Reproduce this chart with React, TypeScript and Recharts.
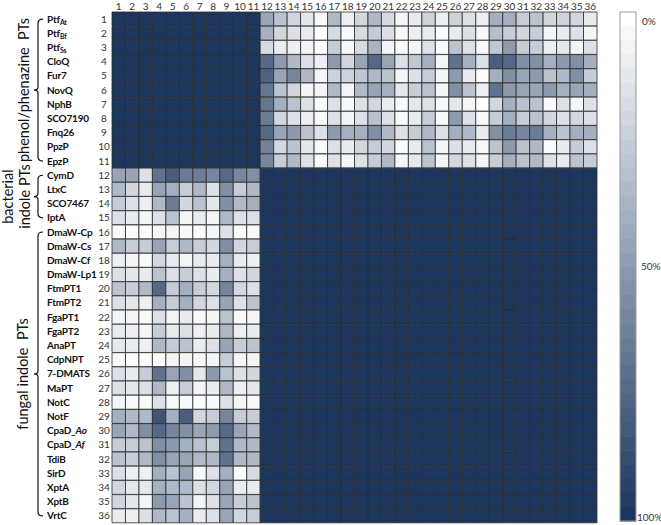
import { BarChart, Bar, XAxis, YAxis, Cell } from 'recharts'

// row labels: "_{..}" = subscript, "*..*" = italic part
const phenolRows = ['Ptf_{At}', 'Ptf_{Bf}', 'Ptf_{Ss}', 'CloQ', 'Fur7', 'NovQ', 'NphB', 'SCO7190', 'Fnq26', 'PpzP', 'EpzP']
const bacterialRows = ['CymD', 'LtxC', 'SCO7467', 'IptA']
const fungalRows = [
  'DmaW-Cp', 'DmaW-Cs', 'DmaW-Cf', 'DmaW-Lp1', 'FtmPT1', 'FtmPT2', 'FgaPT1', 'FgaPT2', 'AnaPT', 'CdpNPT',
  '7-DMATS', 'MaPT', 'NotC', 'NotF', 'CpaD_*Ao*', 'CpaD_*Af*', 'TdiB', 'SirD', 'XptA', 'XptB', 'VrtC',
]
const colNumbers = Array.from({ length: 36 }, (_, i) => i + 1)

// cells inside the same class read as 100%
const SAME_CLASS = 100

// rows 1-11 against columns 12-36
const phenolOnIndole = [
  [45, 30, 20, 12, 3, 35, 8, 20, 35, 18, 5, 10, 22, 8, 22, 15, 8, 40, 40, 25, 30, 20, 22, 20, 10],
  [40, 20, 15, 10, 0, 18, 3, 18, 25, 15, 3, 8, 10, 2, 10, 15, 3, 32, 25, 20, 25, 5, 10, 15, 5],
  [18, 10, 8, 5, 0, 25, 3, 18, 38, 5, 3, 5, 15, 2, 30, 15, 3, 28, 50, 25, 25, 8, 12, 5, 15],
  [75, 50, 35, 15, 8, 50, 20, 45, 75, 45, 15, 28, 40, 5, 70, 40, 15, 80, 75, 55, 55, 40, 50, 55, 40],
  [78, 45, 60, 35, 5, 22, 22, 28, 35, 30, 5, 15, 25, 5, 50, 10, 0, 40, 55, 45, 50, 30, 35, 55, 25],
  [68, 30, 20, 5, 5, 35, 5, 35, 45, 40, 12, 25, 30, 5, 55, 30, 8, 70, 50, 45, 45, 50, 40, 45, 40],
  [68, 40, 30, 15, 2, 15, 3, 15, 20, 10, 3, 12, 15, 3, 12, 5, 0, 20, 40, 30, 30, 3, 15, 5, 15],
  [65, 20, 15, 8, 3, 15, 5, 15, 30, 15, 3, 10, 25, 3, 50, 15, 3, 25, 40, 25, 30, 20, 15, 20, 15],
  [75, 45, 50, 30, 15, 50, 40, 40, 55, 35, 15, 25, 35, 15, 40, 35, 10, 55, 65, 60, 65, 40, 30, 40, 40],
  [62, 20, 30, 12, 3, 15, 10, 20, 25, 20, 2, 10, 30, 5, 15, 10, 3, 30, 50, 30, 35, 2, 10, 25, 15],
  [60, 25, 35, 15, 3, 15, 5, 15, 25, 35, 5, 12, 30, 5, 20, 15, 5, 25, 40, 30, 35, 15, 10, 30, 25],
]

// rows 12-36 against columns 1-11
const indoleOnPhenol = [
  [45, 45, 15, 70, 80, 65, 65, 60, 75, 60, 55],
  [35, 20, 10, 45, 40, 25, 35, 15, 55, 25, 35],
  [25, 15, 8, 35, 65, 20, 30, 12, 55, 35, 40],
  [15, 10, 5, 15, 30, 5, 10, 5, 35, 15, 15],
  [3, 2, 2, 5, 5, 3, 2, 5, 15, 3, 3],
  [35, 25, 25, 45, 25, 35, 25, 20, 55, 20, 25],
  [8, 5, 3, 20, 10, 5, 10, 10, 40, 10, 8],
  [15, 12, 10, 30, 15, 25, 15, 10, 40, 15, 20],
  [30, 25, 35, 75, 25, 40, 25, 20, 60, 20, 15],
  [15, 12, 8, 40, 25, 40, 20, 15, 45, 15, 30],
  [5, 5, 3, 15, 5, 10, 3, 5, 30, 3, 5],
  [10, 8, 5, 25, 10, 15, 8, 10, 35, 8, 10],
  [12, 10, 8, 35, 25, 30, 10, 15, 45, 25, 30],
  [3, 2, 2, 3, 5, 5, 3, 5, 25, 5, 5],
  [15, 10, 25, 70, 45, 55, 12, 50, 30, 15, 20],
  [15, 12, 15, 35, 8, 25, 5, 10, 35, 8, 12],
  [5, 3, 3, 15, 3, 3, 2, 3, 15, 5, 3],
  [40, 35, 35, 85, 40, 80, 20, 25, 60, 25, 25],
  [45, 35, 55, 75, 60, 55, 45, 50, 75, 45, 35],
  [25, 25, 30, 55, 50, 40, 30, 25, 70, 35, 35],
  [30, 25, 35, 55, 45, 45, 35, 35, 70, 35, 35],
  [15, 8, 8, 40, 30, 45, 3, 15, 40, 2, 18],
  [20, 12, 12, 40, 35, 35, 15, 20, 45, 10, 10],
  [20, 12, 5, 50, 45, 30, 5, 15, 45, 25, 30],
  [10, 8, 15, 35, 30, 40, 10, 15, 45, 20, 25],
]

const allRows = [...phenolRows, ...bacterialRows, ...fungalRows]
const NP = phenolRows.length

const FONT = 'Lato, "Open Sans", sans-serif'
const NAVY = [28, 54, 94]
const GRID = '#2c2c2c'

const W = 661
const H = 525
const PLOT_LEFT = 112
const PLOT_TOP = 12
const PLOT_RIGHT = 597
const PLOT_BOTTOM = 523
const ROW_H = (PLOT_BOTTOM - PLOT_TOP) / allRows.length

function cellValue(r: number, c: number): number {
  const rowPhenol = r < NP
  const colPhenol = c < NP
  if (rowPhenol === colPhenol) return SAME_CLASS
  return rowPhenol ? phenolOnIndole[r][c - NP] : indoleOnPhenol[r - NP][c]
}

function colorFor(v: number): string {
  const t = Math.max(0, Math.min(1, v / 100))
  const ch = NAVY.map((n) => Math.round(255 + (n - 255) * t))
  return `rgb(${ch[0]},${ch[1]},${ch[2]})`
}

const data = allRows.map((row) => {
  const d: Record<string, string | number> = { row }
  colNumbers.forEach((c) => (d[`c${c}`] = 1))
  return d
})

function RowLabel({ name }: { name: string }) {
  const sub = name.match(/^(.*)_\{(.*)\}$/)
  if (sub)
    return (
      <>
        {sub[1]}
        <tspan fontSize={7} dy={2}>{sub[2]}</tspan>
      </>
    )
  const it = name.match(/^(.*)\*(.*)\*$/)
  if (it)
    return (
      <>
        {it[1]}
        <tspan fontStyle="italic">{it[2]}</tspan>
      </>
    )
  return <>{name}</>
}

function RowTick(props: any) {
  const { y, payload } = props
  return (
    <g>
      <text
        x={47}
        y={y}
        dy="0.35em"
        textAnchor="start"
        fontSize={10}
        letterSpacing={-0.2}
        fontWeight={700}
        fill="#111"
        fontFamily={FONT}
      >
        <RowLabel name={payload.value} />
      </text>
      <text x={104} y={y} dy="0.35em" textAnchor="middle" fontSize={10} fill="#333" fontFamily={FONT}>
        {payload.index + 1}
      </text>
    </g>
  )
}

function Bracket({ from, to }: { from: number; to: number }) {
  const y1 = PLOT_TOP + (from + 0.5) * ROW_H
  const y2 = PLOT_TOP + (to + 0.5) * ROW_H
  const mid = (y1 + y2) / 2
  const x = 38
  const d = `M${x + 5},${y1} Q${x},${y1} ${x},${y1 + 4} L${x},${mid - 3} Q${x},${mid} ${x - 4},${mid} Q${x},${mid} ${x},${mid + 3} L${x},${y2 - 4} Q${x},${y2} ${x + 5},${y2}`
  return <path d={d} fill="none" stroke="#111" strokeWidth={1.2} />
}

function GroupLabel({ x, y, text }: { x: number; y: number; text: string }) {
  return (
    <text
      x={x}
      y={y}
      transform={`rotate(-90 ${x} ${y})`}
      textAnchor="middle"
      dominantBaseline="central"
      fontSize={14.5}
      fill="#111"
      fontFamily={FONT}
      style={{ whiteSpace: 'pre' }}
    >
      {text}
    </text>
  )
}

function Overlay() {
  const steps = 36
  const barX = 620
  const barW = 16
  const barTop = 12
  const barBot = 521
  const stepH = (barBot - barTop) / steps
  const centerOf = (a: number, b: number) => PLOT_TOP + ((a + b + 1) / 2) * ROW_H
  const nb = NP + bacterialRows.length
  return (
    <svg width={W} height={H} style={{ position: 'absolute', left: 0, top: 0, pointerEvents: 'none' }}>
      <Bracket from={0} to={NP - 1} />
      <Bracket from={NP} to={nb - 1} />
      <Bracket from={nb} to={allRows.length - 1} />
      <GroupLabel x={24} y={centerOf(0, NP - 1)} text="phenol/phenazine  PTs" />
      <GroupLabel x={8} y={centerOf(NP, nb - 1)} text="bacterial" />
      <GroupLabel x={25} y={centerOf(NP, nb - 1)} text="indole PTs" />
      <GroupLabel x={23} y={centerOf(nb, allRows.length - 1)} text="fungal indole  PTs" />
      {Array.from({ length: steps }, (_, i) => (
        <rect key={i} x={barX} y={barTop + i * stepH} width={barW} height={stepH + 0.5} fill={colorFor((i / (steps - 1)) * 100)} />
      ))}
      <rect x={barX} y={barTop} width={barW} height={barBot - barTop} fill="none" stroke="#9a9a9a" strokeWidth={1} />
      <g fontFamily={FONT} fontSize={10} fill="#333">
        <text x={642} y={21} dy="0.35em">0%</text>
        <text x={641} y={266} dy="0.35em">50%</text>
        <text x={637} y={517} dy="0.35em">100%</text>
      </g>
    </svg>
  )
}

export default function App() {
  return (
    <div style={{ position: 'absolute', left: 0, top: 0, width: W, height: H, background: '#fff' }}>
      <BarChart
        width={W}
        height={H}
        data={data}
        layout="vertical"
        barCategoryGap={0}
        barGap={0}
        margin={{ top: 0, right: W - PLOT_RIGHT, bottom: H - PLOT_BOTTOM, left: 0 }}
      >
        <XAxis
          type="number"
          orientation="top"
          domain={[0, colNumbers.length]}
          ticks={colNumbers.map((c) => c - 0.5)}
          tickFormatter={(v: number) => String(v + 0.5)}
          height={PLOT_TOP}
          axisLine={false}
          tickLine={false}
          tickSize={0}
          tickMargin={2}
          interval={0}
          tick={{ fontSize: 10, fill: '#333', fontFamily: FONT }}
        />
        <YAxis
          type="category"
          dataKey="row"
          width={PLOT_LEFT}
          axisLine={false}
          tickLine={false}
          interval={0}
          tick={(p: any) => <RowTick {...p} />}
        />
        {colNumbers.map((c) => (
          <Bar key={c} dataKey={`c${c}`} stackId="m" isAnimationActive={false}>
            {allRows.map((_, r) => (
              <Cell key={r} fill={colorFor(cellValue(r, c - 1))} stroke={GRID} strokeWidth={0.8} />
            ))}
          </Bar>
        ))}
      </BarChart>
      <Overlay />
    </div>
  )
}
